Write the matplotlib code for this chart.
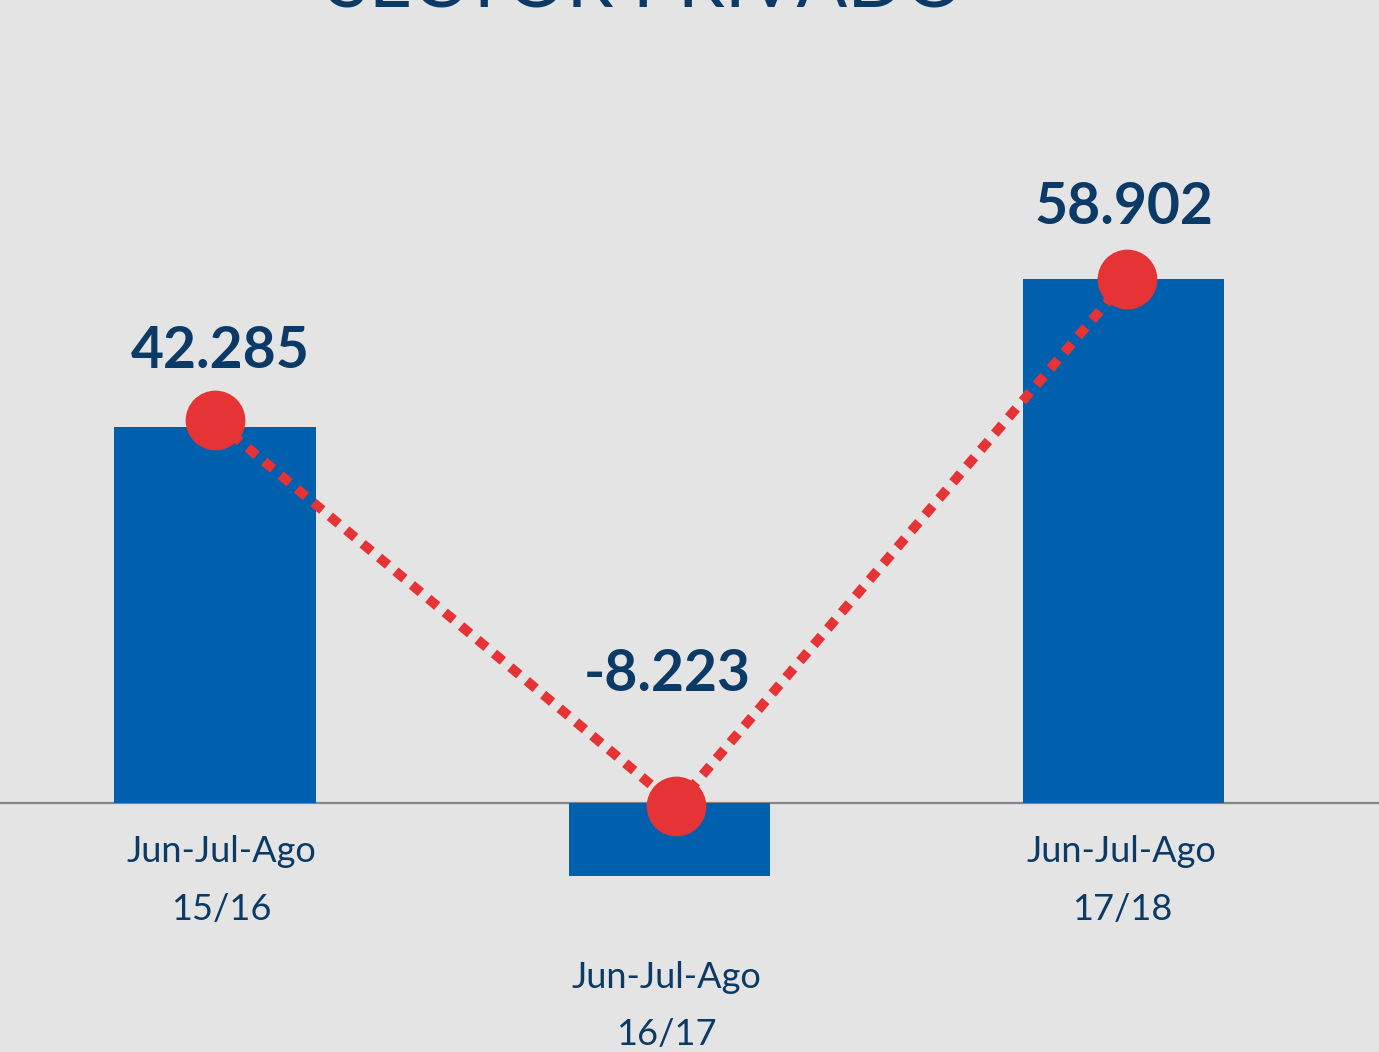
import matplotlib
matplotlib.use("Agg")
import matplotlib.pyplot as plt

# Data
categories = ["Jun-Jul-Ago\n15/16", "Jun-Jul-Ago\n16/17", "Jun-Jul-Ago\n17/18"]
bar_values = [42285, -8223, 58902]
value_labels = ["42.285", "-8.223", "58.902"]
line_values = [43000, -300, 58900]
title = "SECTOR PRIVADO"

BG = "#E4E4E4"
BAR = "#0060AE"
RED = "#E63336"
NAVY = "#0B3A66"

plt.rcParams['font.family'] = ['Lato', 'DejaVu Sans']

fig = plt.figure(figsize=(13.79, 10.52), dpi=100, facecolor=BG)
ax = fig.add_axes([0, 0, 1, 1])
ax.set_facecolor(BG)

x = list(range(len(categories)))
ax.bar(x, bar_values, width=0.443, color=BAR, zorder=2)
ax.axhline(0, color="#858585", lw=1.6, zorder=1)

offsets = [0.0, 0.015, 0.008]
lx = [xi + o for xi, o in zip(x, offsets)]
ax.plot(lx, line_values, color=RED, lw=7,
        dashes=(1.2, 1.0), dash_capstyle='butt', zorder=3)
ax.plot(lx, line_values, 'o', color=RED, ms=42, zorder=4)

ax.set_xlim(-0.473, 2.562)
ax.set_ylim(-27978, 90225)
ax.axis('off')

# value labels
label_y = [line_values[0] + 7700, line_values[1] + 14700, line_values[2] + 8000]
label_dx = [0.012, -0.005, 0.0]
for xi, dx, ly, txt in zip(x, label_dx, label_y, value_labels):
    ax.text(xi + dx, ly, txt, ha='center', va='center', fontsize=41,
            fontweight='bold', color=NAVY, zorder=5)

# category labels
cat_y = [-8700, -22800, -8700]
cat_dx = [0.015, -0.006, -0.004]
for xi, dx, cy, txt in zip(x, cat_dx, cat_y, categories):
    ax.text(xi + dx, cy, txt, ha='center', va='center', fontsize=26,
            color=NAVY, linespacing=1.9, zorder=5)

fig.text(0.4685, 1 - 8 / 1052, title, ha='center', va='baseline',
         fontsize=54, color=NAVY)

fig.savefig("out.png", dpi=100, facecolor=BG)
